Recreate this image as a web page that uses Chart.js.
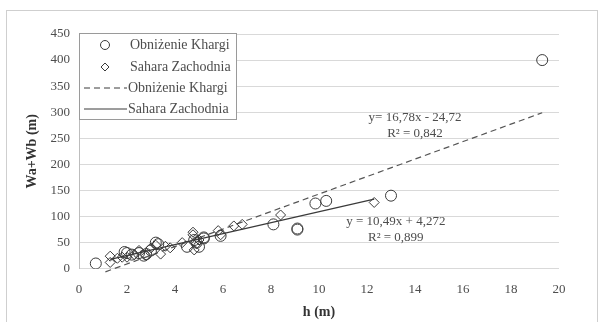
<!DOCTYPE html>
<html>
<head>
<meta charset="utf-8">
<script src="https://cdn.jsdelivr.net/npm/chart.js@4"></script>
<style>
	body { margin: 0; background: #fff; }
	#wrap { position: relative; width: 605px; height: 322px; overflow: hidden; }
	#frame { position: absolute; left: 6px; top: 10px; width: 590px; height: 330px; border: 1px solid #cfcfcf; }
	#chart { position: absolute; left: 0; top: 0; }
</style>
</head>
<body>
<div id="wrap">
	<div id="frame"></div>
	<canvas id="chart" width="605" height="322"></canvas>
</div>
<script>
// Obniżenie Khargi (circles)
const khargiX = [0.7, 1.9, 2.0, 2.2, 2.5, 2.7, 2.8, 3.0, 3.2, 3.3, 4.5, 4.8, 4.9, 5.0, 5.2, 5.2, 5.9, 8.1, 9.1, 9.1, 9.85, 10.3, 13.0, 19.3];
const khargiY = [10, 32, 30, 27, 30, 25, 28, 35, 50, 47, 42, 55, 50, 42, 60, 58, 63, 85, 77, 75, 125, 130, 140, 400];

// Sahara Zachodnia (diamonds)
const saharaX = [1.3, 1.3, 1.6, 1.8, 2.0, 2.3, 2.5, 2.8, 3.0, 3.2, 3.4, 3.6, 3.8, 4.3, 4.75, 4.75, 4.8, 4.9, 5.0, 5.8, 5.9, 6.45, 6.8, 8.4, 12.3];
const saharaY = [12, 24, 20, 22, 22, 27, 35, 25, 40, 45, 28, 43, 40, 50, 70, 65, 36, 48, 55, 73, 65, 82, 85, 103, 127];

// trend lines (end points)
const khargiTrendX = [1.1, 19.3];
const khargiTrendY = [-6, 299];
const saharaTrendX = [1.3, 12.3];
const saharaTrendY = [17.9, 133.3];

const xTicks = [0, 2, 4, 6, 8, 10, 12, 14, 16, 18, 20];
const yTicks = [0, 50, 100, 150, 200, 250, 300, 350, 400, 450];

const labels = ["Obniżenie Khargi", "Sahara Zachodnia", "Obniżenie Khargi", "Sahara Zachodnia"];
const equations = ["y= 16,78x - 24,72", "R² = 0,842", "y = 10,49x + 4,272", "R² = 0,899"];

const serif = "'Liberation Serif', 'Times New Roman', serif";
const ink = "#3a3a3a";
const textGray = "#4d4d4d";

function toPoints(xs, ys) {
	return xs.map((x, i) => ({ x: x, y: ys[i] }));
};

const equationPlugin = {
	id: 'equations',
	afterDraw(chart) {
		const ctx = chart.ctx;
		const xs = chart.scales.x;
		const ys = chart.scales.y;
		ctx.save();
		ctx.font = "13px " + serif;
		ctx.fillStyle = textGray;
		ctx.textAlign = 'center';
		ctx.textBaseline = 'middle';
		ctx.fillText(equations[0], xs.getPixelForValue(14.0), ys.getPixelForValue(289));
		ctx.fillText(equations[1], xs.getPixelForValue(14.0), ys.getPixelForValue(260));
		ctx.fillText(equations[2], xs.getPixelForValue(13.2), ys.getPixelForValue(90));
		ctx.fillText(equations[3], xs.getPixelForValue(13.2), ys.getPixelForValue(59));
		ctx.restore();
	}
};

const legendPlugin = {
	id: 'boxLegend',
	afterDraw(chart) {
		const ctx = chart.ctx;
		const left = chart.chartArea.left;
		const top = 33;
		ctx.save();
		ctx.fillStyle = '#fff';
		ctx.fillRect(left, top, 157, 86);
		ctx.strokeStyle = '#9a9a9a';
		ctx.lineWidth = 1;
		ctx.strokeRect(left + 0.5, top + 0.5, 157, 86);
		ctx.font = "14px " + serif;
		ctx.textBaseline = 'middle';
		const rows = [45, 67, 88, 109];
		chart.data.datasets.forEach((ds, i) => {
			const y = rows[i];
			ctx.strokeStyle = ink;
			ctx.lineWidth = 1;
			if (ds.showLine) {
				ctx.setLineDash(ds.borderDash || []);
				ctx.beginPath();
				ctx.moveTo(left + 5, y);
				ctx.lineTo(left + 48, y);
				ctx.stroke();
				ctx.setLineDash([]);
				ctx.fillStyle = textGray;
				ctx.fillText(labels[i], left + 49, y);
			} else {
				ctx.fillStyle = 'rgba(0,0,0,0)';
				Chart.helpers.drawPoint(ctx, {
					pointStyle: ds.pointStyle,
					radius: ds.pointRadius - 1,
					borderWidth: 1
				}, left + 26, y);
				ctx.fillStyle = textGray;
				ctx.fillText(labels[i], left + 51, y);
			}
		});
		ctx.restore();
	}
};

new Chart(document.getElementById('chart'), {
	type: 'scatter',
	data: {
		datasets: [{
			label: labels[0],
			data: toPoints(khargiX, khargiY),
			pointStyle: 'circle',
			pointRadius: 5.5,
			borderColor: ink,
			backgroundColor: 'rgba(0,0,0,0)',
			borderWidth: 1,
			order: 1
		}, {
			label: labels[1],
			data: toPoints(saharaX, saharaY),
			pointStyle: 'rectRot',
			pointRadius: 5,
			borderColor: ink,
			backgroundColor: 'rgba(0,0,0,0)',
			borderWidth: 1,
			order: 2
		}, {
			label: labels[2],
			data: toPoints(khargiTrendX, khargiTrendY),
			showLine: true,
			pointRadius: 0,
			borderColor: '#555',
			borderWidth: 1.2,
			borderDash: [6, 4],
			clip: false,
			order: 3
		}, {
			label: labels[3],
			data: toPoints(saharaTrendX, saharaTrendY),
			showLine: true,
			pointRadius: 0,
			borderColor: ink,
			borderWidth: 1.2,
			order: 4
		}]
	},
	options: {
		responsive: false,
		animation: false,
		layout: { padding: { left: 20, top: 34, right: 46, bottom: 0 } },
		plugins: {
			legend: { display: false },
			tooltip: { enabled: false }
		},
		scales: {
			x: {
				type: 'linear',
				min: 0,
				max: 20,
				afterBuildTicks: (axis) => { axis.ticks = xTicks.map(v => ({ value: v })); },
				afterFit: (axis) => { axis.height = 53.3; },
				grid: { display: false, drawTicks: false },
				border: { display: false },
				ticks: { padding: 13, color: textGray, font: { family: serif, size: 13 } },
				title: { display: true, text: 'h (m)', color: '#333', padding: { top: 0, bottom: 1 }, font: { family: serif, size: 14, weight: 'bold' } }
			},
			y: {
				type: 'linear',
				min: 0,
				max: 450,
				afterBuildTicks: (axis) => { axis.ticks = yTicks.map(v => ({ value: v })); },
				afterFit: (axis) => { axis.width = 59; },
				grid: { color: '#d9d9d9', drawTicks: false },
				border: { display: true, color: '#bdbdbd' },
				ticks: { padding: 9, color: textGray, font: { family: serif, size: 13 } },
				title: { display: true, text: 'Wa+Wb (m)', color: '#333', padding: { top: 4, bottom: 0 }, font: { family: serif, size: 14, weight: 'bold' } }
			}
		}
	},
	plugins: [equationPlugin, legendPlugin]
});
</script>
</body>
</html>
